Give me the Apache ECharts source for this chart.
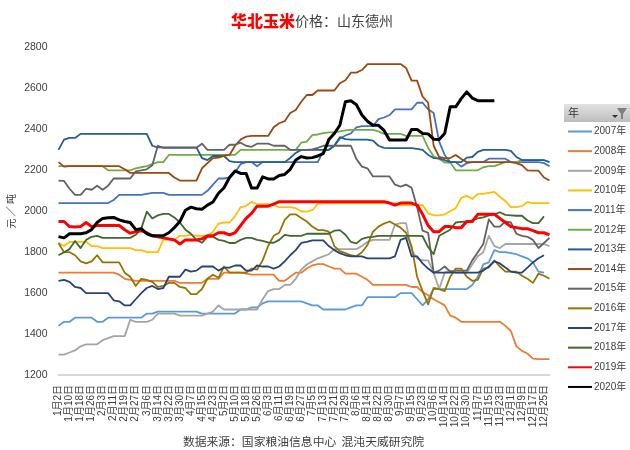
<!DOCTYPE html>
<html><head><meta charset="utf-8">
<script src="https://cdn.jsdelivr.net/npm/echarts@6/dist/echarts.min.js"></script>
<style>html,body{margin:0;padding:0;background:#fff}#c{width:630px;height:450px}</style>
</head><body><div id="c"></div>
<script>
const categories=["1月2日","1月6日","1月10日","1月14日","1月18日","1月22日","1月26日","1月30日","2月3日","2月7日","2月11日","2月15日","2月19日","2月23日","2月27日","3月2日","3月6日","3月10日","3月14日","3月18日","3月22日","3月26日","3月30日","4月3日","4月7日","4月11日","4月15日","4月19日","4月23日","4月27日","5月2日","5月6日","5月10日","5月14日","5月18日","5月22日","5月26日","5月30日","6月3日","6月7日","6月11日","6月15日","6月19日","6月23日","6月27日","7月1日","7月5日","7月9日","7月13日","7月17日","7月21日","7月25日","7月29日","8月2日","8月6日","8月10日","8月14日","8月18日","8月22日","8月26日","8月30日","9月3日","9月7日","9月11日","9月15日","9月19日","9月23日","9月28日","10月6日","10月10日","10月14日","10月18日","10月22日","10月26日","10月30日","11月3日","11月7日","11月11日","11月15日","11月19日","11月23日","11月27日","12月1日","12月5日","12月9日","12月13日","12月17日","12月21日","12月25日","12月29日"];
const y2007=[1440,1460,1460,1480,1480,1480,1480,1460,1460,1480,
1480,1480,1480,1480,1480,1480,1500,1500,1510,1510,
1510,1510,1510,1510,1510,1510,1500,1500,1500,1500,
1500,1500,1500,1520,1520,1530,1530,1550,1560,1560,
1560,1560,1560,1560,1560,1550,1540,1540,1520,1520,
1520,1520,1520,1530,1540,1540,1580,1580,1580,1580,
1580,1580,1600,1600,1600,1570,1540,1570,1620,1620,
1620,1620,1620,1620,1620,1640,1680,1740,1750,1810,
1800,1800,1795,1790,1780,1770,1750,1705,1700,null];
const y2008=[1700,1700,1700,1700,1700,1700,1700,1700,1700,1700,
1700,1690,1670,1665,1660,1660,1660,1660,1660,1660,
1660,1660,1650,1650,1650,1650,1650,1670,1670,1670,
1700,1700,1700,1700,1695,1690,1690,1690,1690,1690,
1660,1660,1680,1700,1700,1720,1735,1742,1742,1730,
1720,1720,1695,1695,1695,1680,1665,1640,1640,1640,
1640,1640,1640,1640,1630,1630,1605,1590,1570,1555,
1540,1490,1480,1460,1460,1460,1460,1460,1460,1460,
1460,1440,1415,1340,1318,1305,1280,1278,1278,1278];
const y2009=[1300,1300,1310,1320,1340,1350,1350,1350,1370,1380,
1390,1390,1390,1470,1460,1460,1460,1470,1500,1500,
1500,1500,1490,1490,1490,1490,1490,1500,1510,1540,
1520,1520,1520,1520,1520,1520,1520,1570,1610,1620,
1620,1640,1640,1670,1715,1740,1755,1770,1780,1790,
1815,1815,1815,1815,1815,1830,1850,1860,1860,1860,
1860,1935,1942,1942,1810,1770,1760,1760,1700,1620,
1700,1710,1700,1700,1700,1740,1780,1800,1880,1830,
1820,1840,1840,1840,1840,1840,1840,1840,1840,1830];
const y2010=[1845,1830,1850,1850,1850,1850,1830,1830,1820,1820,
1820,1820,1820,1820,1810,1810,1800,1800,1800,1860,
1860,1860,1880,1880,1885,1880,1880,1880,1900,1940,
1945,1945,1975,2020,2025,2046,2035,2035,2035,2030,
2020,2020,2020,2015,2000,1998,2005,2035,2040,2040,
2040,2040,2040,2040,2040,2040,2040,2040,2040,2040,
2040,2040,2030,2030,2030,2030,2030,1990,1980,1980,
1985,2000,2015,2065,2075,2060,2085,2085,2090,2095,
2070,2050,2020,2020,2025,2045,2040,2040,2040,2040];
const y2011=[2040,2040,2040,2040,2040,2040,2040,2040,2040,2040,
2055,2080,2080,2080,2080,2080,2085,2090,2090,2090,
2080,2080,2080,2080,2080,2080,2080,2100,2130,2160,
2160,2165,2190,2230,2240,2240,2220,2240,2240,2240,
2240,2240,2240,2240,2240,2240,2240,2240,2295,2300,
2320,2355,2370,2380,2410,2416,2416,2416,2450,2458,
2470,2498,2498,2498,2498,2530,2530,2498,2480,2340,
2275,2240,2240,2218,2235,2240,2240,2240,2257,2257,
2257,2257,2240,2240,2240,2240,2240,2240,2235,2220];
const y2012=[2220,2220,2220,2220,2220,2220,2220,2220,2220,2200,
2200,2200,2200,2200,2210,2215,2220,2230,2240,2240,
2275,2275,2275,2275,2275,2275,2275,2275,2275,2275,
2275,2275,2275,2300,2300,2300,2300,2300,2300,2300,
2300,2300,2300,2300,2335,2340,2372,2375,2382,2385,
2385,2390,2395,2398,2398,2398,2398,2398,2390,2378,
2378,2378,2378,2368,2368,2368,2368,2310,2268,2255,
2238,2238,2200,2200,2200,2200,2200,2215,2220,2220,
2230,2240,2240,2240,2250,2250,2250,2250,2250,null];
const y2013=[2300,2350,2358,2358,2378,2378,2378,2378,2378,2378,
2378,2378,2378,2378,2378,2378,2378,2320,2312,2312,
2312,2312,2312,2312,2312,2312,2260,2250,2270,2270,
2270,2245,2240,2240,2240,2240,2240,2240,2240,2240,
2240,2240,2260,2285,2300,2300,2300,2300,2300,2300,
2320,2362,2352,2350,2350,2350,2350,2345,2320,2310,
2308,2308,2308,2308,2308,2305,2300,2275,2260,2258,
2250,2240,2240,2240,2262,2265,2290,2300,2300,2300,
2300,2300,2295,2265,2250,2250,2250,2250,2250,2240];
const y2014=[2240,2218,2220,2220,2220,2220,2220,2220,2220,2220,
2220,2220,2205,2187,2187,2187,2187,2187,2187,2187,
2187,2165,2150,2150,2150,2150,2210,2235,2260,2262,
2270,2275,2320,2350,2365,2368,2368,2368,2368,2410,
2430,2440,2480,2495,2535,2568,2568,2590,2590,2590,
2590,2625,2640,2677,2677,2690,2719,2719,2719,2719,
2719,2719,2719,2700,2638,2638,2560,2530,2320,2265,
2260,2260,2275,2255,2240,2240,2240,2240,2240,2240,
2240,2240,2240,2235,2225,2200,2198,2198,2165,2150];
const y2015=[2150,2148,2110,2080,2080,2110,2105,2125,2105,2125,
2160,2160,2160,2160,2195,2200,2205,2225,2320,2310,
2310,2310,2310,2310,2310,2310,2330,2300,2300,2300,
2300,2325,2325,2335,2320,2315,2330,2330,2330,2320,
2320,2320,2300,2300,2300,2300,2302,2310,2320,2320,
2320,2320,2320,2320,2255,2218,2210,2170,2170,2170,
2170,2130,2120,2130,2115,2020,1905,1895,1700,1710,
1730,1705,1710,1710,1710,1760,1800,1840,1960,1925,
1925,1950,1945,1890,1880,1875,1860,1820,1845,1870];
const y2016=[1845,1800,1800,1785,1755,1745,1755,1785,1750,1750,
1750,1750,1700,1680,1635,1670,1665,1655,1630,1635,
1650,1650,1630,1625,1595,1595,1620,1670,1690,1675,
1730,1700,1700,1700,1700,1720,1715,1760,1830,1880,
1895,1958,1985,1985,1967,1950,1925,1908,1908,1900,
1830,1805,1795,1785,1780,1800,1835,1900,1925,1940,
1950,1935,1920,1895,1830,1680,1610,1545,1625,1620,
1610,1680,1720,1720,1680,1660,1665,1720,1725,1760,
1730,1705,1705,1705,1685,1670,1650,1695,1685,1670];
const y2017=[1660,1665,1655,1630,1625,1600,1600,1600,1600,1600,
1565,1560,1540,1540,1570,1600,1625,1635,1620,1625,
1680,1680,1680,1715,1705,1710,1730,1730,1730,1710,
1725,1725,1735,1735,1710,1710,1735,1730,1730,1720,
1730,1755,1785,1810,1845,1850,1858,1858,1858,1830,
1810,1795,1785,1780,1780,1780,1770,1770,1770,1770,
1770,1780,1860,1870,1780,1780,1745,1720,1700,1700,
1700,1700,1700,1700,1700,1700,1700,1710,1730,1755,
1745,1725,1705,1700,1700,1725,1750,1770,1785,null];
const y2018=[1785,1800,1815,1855,1820,1860,1875,1880,1870,1870,
1870,1870,1870,1870,1885,1915,1998,1965,1980,1987,
1987,1970,1945,1910,1890,1860,1846,1875,1875,1860,
1855,1845,1845,1860,1870,1870,1860,1855,1848,1846,
1860,1885,1880,1880,1880,1890,1890,1890,1890,1890,
1905,1908,1885,1850,1843,1865,1872,1875,1880,1880,
1880,1880,1880,1880,1880,1880,1878,1825,1790,1880,
1895,1910,1945,1948,1950,1955,1965,1970,1980,1985,
1995,1982,1980,1978,1978,1955,1942,1942,1975,null];
const y2019=[1950,1950,1925,1923,1925,1945,1925,1930,1930,1930,
1930,1930,1910,1893,1900,1905,1895,1880,1875,1870,
1865,1860,1840,1860,1860,1860,1865,1880,1880,1895,
1895,1885,1895,1930,1965,1990,2025,2025,2025,2035,
2047,2047,2047,2047,2047,2047,2047,2047,2047,2047,
2047,2047,2047,2047,2047,2047,2047,2047,2047,2047,
2040,2030,2040,2040,2040,2030,1985,1930,1900,1900,
1925,1925,1920,1920,1950,1950,1985,1985,1985,1985,
1965,1945,1925,1920,1915,1915,1905,1895,1895,1885];
const y2020=[1876,1870,1890,1890,1890,1895,1910,1945,1965,1968,
1970,1958,1950,1945,1910,1915,1890,1880,1880,1880,
1895,1920,1950,2005,2020,2012,2010,2030,2045,2088,
2115,2165,2197,2185,2185,2113,2113,2168,2158,2158,
2175,2180,2205,2250,2267,2260,2262,2270,2282,2350,
2380,2420,2535,2540,2520,2470,2440,2420,2420,2395,
2348,2348,2348,2348,2400,2400,2380,2378,2352,2350,
2380,2510,2510,2550,2583,2553,2540,2540,2540,2540,
null,null,null,null,null,null,null,null,null,null];
const seriesNames=["2007年","2008年","2009年","2010年","2011年","2012年","2013年","2014年","2015年","2016年","2017年","2018年","2019年","2020年"];
const seriesValues=[y2007,y2008,y2009,y2010,y2011,y2012,y2013,y2014,y2015,y2016,y2017,y2018,y2019,y2020];
const colors=["#5B9BD5","#ED7D31","#A5A5A5","#FFC000","#4472C4","#70AD47","#255E91","#9E480E","#636363","#997300","#264478","#43682B","#FF0000","#000000"];
const widths=[1.8,1.8,1.8,1.8,1.8,1.8,1.8,1.8,1.8,1.8,1.8,1.8,3,3];
const cjk='"Liberation Sans","Noto Sans CJK SC",sans-serif';
const chart=echarts.init(document.getElementById('c'),null,{renderer:'canvas'});
chart.setOption({
 animation:false,
 backgroundColor:'#fff',
 title:{left:307,top:8,textAlign:'center',
  text:'{a|华北玉米}{b|价格：山东德州}',
  textStyle:{rich:{
   a:{fontFamily:'"Noto Sans CJK SC",sans-serif',fontWeight:'900',fontSize:16,color:'#FF0000'},
   b:{fontFamily:'"Noto Sans CJK SC",sans-serif',fontWeight:'normal',fontSize:14,color:'#404040'}}}},
 grid:{left:58.5,top:47.5,width:491,height:327.5,outerBoundsMode:'none'},
 legend:{orient:'vertical',left:568,top:125.5,padding:0,itemWidth:24,itemHeight:2,itemGap:7.65,icon:'rect',
  textStyle:{fontFamily:cjk,fontSize:10,color:'#404040',lineHeight:12,padding:[0,0,0,-3]},
  data:seriesNames,selectedMode:false},
 xAxis:{type:'category',boundaryGap:false,data:categories,
  axisLine:{lineStyle:{color:'#D9D9D9',width:2}},axisTick:{show:false},
  axisLabel:{interval:1,rotate:90,fontFamily:cjk,fontSize:10,color:'#404040',margin:10}},
 yAxis:{type:'value',min:1200,max:2800,interval:200,
  name:'元 ／ 吨',nameLocation:'middle',nameGap:42,nameRotate:90,nameMoveOverlap:false,
  nameTextStyle:{fontFamily:'"Noto Sans CJK SC",sans-serif',fontSize:10,color:'#404040'},
  axisLine:{show:false},axisTick:{show:false},splitLine:{show:false},
  axisLabel:{fontFamily:cjk,fontSize:10.5,color:'#404040',margin:11,formatter:v=>String(v)}},
 series:seriesNames.map((n,i)=>({name:n,type:'line',data:seriesValues[i],showSymbol:false,symbol:'none',
  connectNulls:false,z:2+i,lineStyle:{color:colors[i],width:widths[i],join:'round'},itemStyle:{color:colors[i]}})),
 graphic:[
  {type:'rect',shape:{x:564,y:104,width:66,height:18},style:{fill:new echarts.graphic.LinearGradient(0,0,0,1,[{offset:0,color:'#E2E2E2'},{offset:1,color:'#BDBDBD'}])}},
  {type:'text',x:568,y:107,style:{text:'年',font:'11px "Noto Sans CJK SC"',fill:'#333'}},
  {type:'polygon',shape:{points:[[617,108],[627,108],[623,114],[623,119],[621,119],[621,114]]},style:{fill:'#7F7F7F'}},
  {type:'polygon',shape:{points:[[612,115],[618,115],[615,118]]},style:{fill:'#333'}},
  {type:'text',x:303.5,y:442,style:{text:'数据来源：国家粮油信息中心  混沌天威研究院',font:'11.8px "Noto Sans CJK SC"',fill:'#404040',align:'center',verticalAlign:'middle'}}
 ]
});
</script></body></html>
